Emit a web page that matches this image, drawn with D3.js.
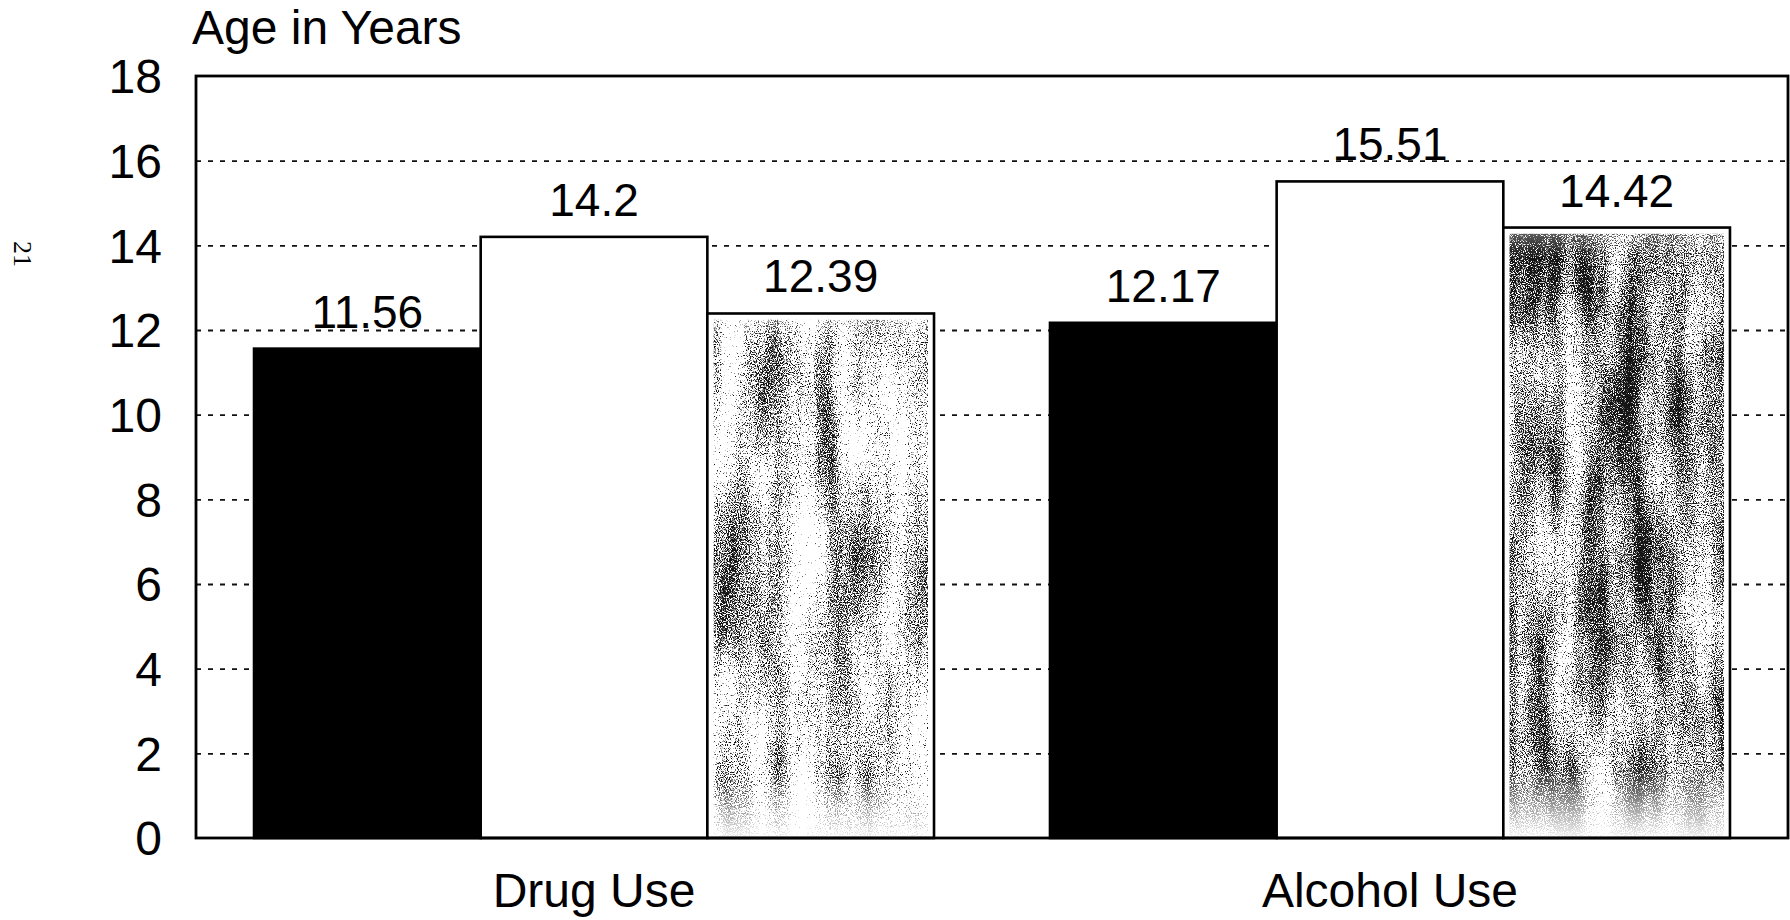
<!DOCTYPE html>
<html>
<head>
<meta charset="utf-8">
<script src="https://cdn.jsdelivr.net/npm/d3@7"></script>
<style>
  html, body { margin: 0; padding: 0; background: #fff; }
  svg { display: block; }
  text { font-family: "Liberation Sans", Arial, Helvetica, sans-serif; fill: #000; }
</style>
</head>
<body>
<svg id="chart" width="1790" height="920"></svg>
<script>
// Mean age at first use, by substance and group
const categories = ["Drug Use", "Alcohol Use"];
const seriesNames = ["Group 1", "Group 2", "Group 3"];
const drugUse = [11.56, 14.2, 12.39];
const alcoholUse = [12.17, 15.51, 14.42];
const yTicks = [0, 2, 4, 6, 8, 10, 12, 14, 16, 18];
const yTitle = "Age in Years";
const pageNumber = "21";

const table = categories.map((c, i) => ({
  category: c,
  values: seriesNames.map((s, j) => ({ series: s, value: [drugUse, alcoholUse][i][j] }))
}));

const svg = d3.select("#chart");
const frame = { left: 196, right: 1788, top: 76, bottom: 838 };

const x0 = d3.scaleBand()
  .domain(categories)
  .range([frame.left, frame.right])
  .paddingInner(0.1457)
  .paddingOuter(0.0729);

const x1 = d3.scaleBand()
  .domain(seriesNames)
  .range([0, x0.bandwidth()])
  .padding(0);

const y = d3.scaleLinear().domain([0, 18]).range([frame.bottom, frame.top]);

// Stippled fill used by the third series
const defs = svg.append("defs");
function stipple(id, bias, seed) {
  const f = defs.append("filter").attr("id", id)
    .attr("x", 0).attr("y", 0).attr("width", 1).attr("height", 1)
    .attr("color-interpolation-filters", "sRGB");
  const opaque = "1 0 0 0 0  0 1 0 0 0  0 0 1 0 0  0 0 0 0 1";
  f.append("feTurbulence").attr("type", "fractalNoise").attr("baseFrequency", "0.9")
    .attr("numOctaves", 2).attr("seed", seed).attr("result", "fineRaw");
  f.append("feColorMatrix").attr("in", "fineRaw").attr("type", "matrix")
    .attr("values", opaque).attr("result", "fine");
  f.append("feTurbulence").attr("type", "fractalNoise").attr("baseFrequency", "0.03 0.006")
    .attr("numOctaves", 3).attr("seed", seed + 11).attr("result", "coarseRaw");
  f.append("feColorMatrix").attr("in", "coarseRaw").attr("type", "matrix")
    .attr("values", opaque).attr("result", "coarse");
  f.append("feComposite").attr("in", "fine").attr("in2", "coarse").attr("operator", "arithmetic")
    .attr("k1", 0).attr("k2", 0.5).attr("k3", 0.3).attr("k4", 0).attr("result", "sum");
  f.append("feColorMatrix").attr("in", "sum").attr("type", "matrix")
    .attr("values", `0 0 0 0 0.08  0 0 0 0 0.08  0 0 0 0 0.08  12 0 0 0 ${bias}`).attr("result", "dots");
  f.append("feComposite").attr("in", "dots").attr("in2", "SourceGraphic").attr("operator", "in");
}
stipple("stip0", -6.35, 3);
stipple("stip1", -5.75, 8);

const fade = defs.append("linearGradient").attr("id", "fadeGrad")
  .attr("x1", 0).attr("y1", 0).attr("x2", 0).attr("y2", 1);
[[0, 0.7], [0.04, 1], [0.88, 1], [0.95, 0.4], [1, 0.05]].forEach(([o, a]) =>
  fade.append("stop").attr("offset", o).attr("stop-color", "#fff").attr("stop-opacity", a));
defs.append("mask").attr("id", "fadeMask").attr("maskContentUnits", "objectBoundingBox")
  .append("rect").attr("width", 1).attr("height", 1).attr("fill", "url(#fadeGrad)");

// Horizontal gridlines
const grid = svg.append("g")
  .attr("transform", `translate(${frame.left},0)`)
  .call(d3.axisLeft(y).tickValues(yTicks.filter(t => t > 0 && t < 18))
    .tickSize(-(frame.right - frame.left)).tickFormat(""));
grid.select(".domain").remove();
grid.selectAll("line").attr("stroke", "#111").attr("stroke-width", 1.8)
  .attr("stroke-dasharray", "5,7");

// Y axis labels
const yAxis = svg.append("g")
  .attr("transform", `translate(${frame.left},0)`)
  .call(d3.axisLeft(y).tickValues(yTicks).tickSize(0).tickPadding(34).tickFormat(d3.format("d")));
yAxis.select(".domain").remove();
yAxis.selectAll("text").attr("font-size", 48).attr("dy", "0.35em")
  .style("font-family", '"Liberation Sans", Arial, sans-serif').attr("fill", "#000");

// Bars
const groups = svg.append("g").selectAll("g").data(table).join("g")
  .attr("transform", d => `translate(${x0(d.category)},0)`);

const bars = groups.selectAll("g.bar").data((d, i) => d.values.map(v => ({ ...v, gi: i })))
  .join("g").attr("class", "bar");

bars.append("rect")
  .attr("x", d => x1(d.series))
  .attr("y", d => y(d.value))
  .attr("width", x1.bandwidth())
  .attr("height", d => y(0) - y(d.value))
  .attr("fill", (d, j) => j === 0 ? "#000" : "#fff");

bars.filter((d, j) => j === 2).append("rect")
  .attr("x", d => x1(d.series) + 6)
  .attr("y", d => y(d.value) + 6)
  .attr("width", x1.bandwidth() - 12)
  .attr("height", d => y(0) - y(d.value) - 6)
  .attr("fill", "#fff")
  .attr("mask", "url(#fadeMask)")
  .attr("filter", d => `url(#stip${d.gi})`);

bars.append("rect")
  .attr("x", d => x1(d.series))
  .attr("y", d => y(d.value))
  .attr("width", x1.bandwidth())
  .attr("height", d => y(0) - y(d.value))
  .attr("fill", "none")
  .attr("stroke", "#000")
  .attr("stroke-width", 2.6);

// Value labels
bars.append("text")
  .attr("x", d => x1(d.series) + x1.bandwidth() / 2)
  .attr("y", d => y(d.value) - 21)
  .attr("text-anchor", "middle")
  .attr("font-size", 46)
  .text(d => String(d.value));

// Plot frame
svg.append("rect")
  .attr("x", frame.left).attr("y", frame.top)
  .attr("width", frame.right - frame.left).attr("height", frame.bottom - frame.top)
  .attr("fill", "none").attr("stroke", "#000").attr("stroke-width", 2.8);

// Category labels
svg.append("g").selectAll("text").data(categories).join("text")
  .attr("x", d => x0(d) + x0.bandwidth() / 2)
  .attr("y", 907)
  .attr("text-anchor", "middle")
  .attr("font-size", 48)
  .text(d => d);

// Axis title
svg.append("text").attr("x", 192).attr("y", 44).attr("font-size", 48).text(yTitle);

// Page number
svg.append("text")
  .attr("transform", "translate(14,254) rotate(90)")
  .attr("text-anchor", "middle")
  .style("font-family", '"Liberation Serif", "DejaVu Serif", serif')
  .attr("font-size", 26)
  .text(pageNumber);
</script>
</body>
</html>
